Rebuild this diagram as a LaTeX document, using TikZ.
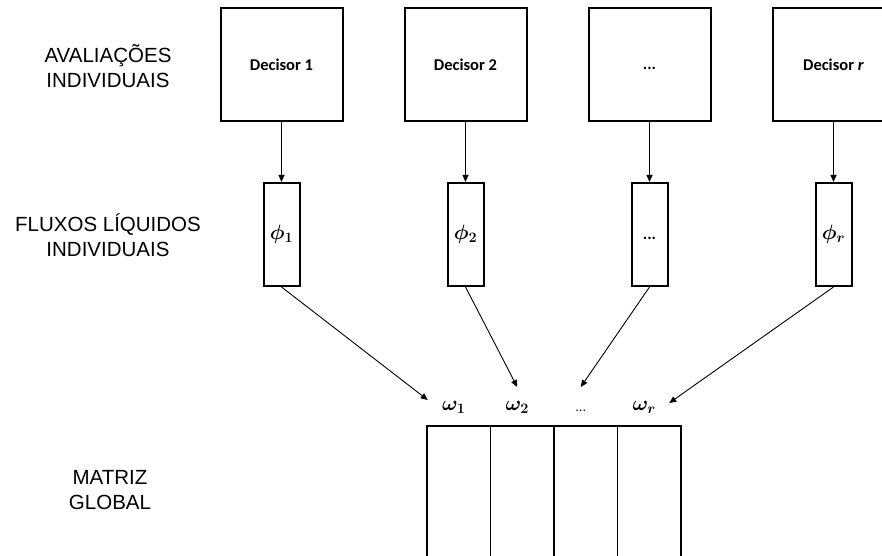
\documentclass[tikz,border=0pt]{standalone}
\usepackage{amsmath}
\usepackage{amssymb}
\usepackage{bm}
\usepackage{fontspec}
\setmainfont{Liberation Sans}
\newfontfamily\calibfont{Carlito}
\usepackage{tikz}
\usetikzlibrary{positioning, arrows.meta, calc}
\newcommand{\labfont}{\fontsize{20.5}{24.5}\selectfont}
\newcommand{\decfont}{\calibfont\bfseries\fontsize{16.5}{20}\selectfont}
\newcommand{\symfont}{\fontsize{19.5}{22}\selectfont}

\begin{document}
\begin{tikzpicture}[
  x=1pt, y=1pt, every node/.style={font=\labfont},
  decbox/.style={draw, line width=2pt, minimum width=122pt, minimum height=113pt,
    inner sep=0pt, font=\decfont, align=center},
  fluxbox/.style={draw, line width=2pt, minimum width=36pt, minimum height=103pt,
    inner sep=0pt, font=\symfont},
  colbox/.style={draw, line width=1.1pt, minimum width=63.5pt, minimum height=160pt,
    inner sep=0pt, outer sep=0pt},
  wlab/.style={font=\symfont, inner sep=1pt},
  arr/.style={-{Triangle[length=7pt, width=6pt]}, line width=0.9pt}
]
  \useasboundingbox (0,0) rectangle (882,555);
  \clip (0,0) rectangle (882,555);

  % Row labels
  \node[align=center] (aval) at (108,489) {AVALIAÇÕES\\INDIVIDUAIS};
  \node[align=center] (flux) at (108,320) {FLUXOS LÍQUIDOS\\INDIVIDUAIS};
  \node[align=center] (glob) at (110,65) {MATRIZ\\GLOBAL};

  % Decision makers
  \node[decbox] (dec1) at (281.5,490.5) {Decisor 1};
  \node[decbox, right=60pt of dec1] (dec2) {Decisor 2};
  \node[decbox, right=60pt of dec2] (dec3) {\vphantom{D}...};
  \node[decbox, right=60pt of dec3] (dec4) {Decisor \textit{r}};

  % Net flows
  \node[fluxbox, below=60pt of dec1] (phi1) {$\bm{\phi_1}$};
  \node[fluxbox, below=60pt of dec2] (phi2) {$\bm{\phi_2}$};
  \node[fluxbox, below=60pt of dec3] (phi3) {\decfont\vphantom{D}...};
  \node[fluxbox, below=60pt of dec4] (phi4) {$\bm{\phi_r}$};

  % Global matrix columns
  \node[colbox, anchor=north west] (col1) at (427,129) {};
  \node[colbox, right=0pt of col1] (col2) {};
  \node[colbox, right=0pt of col2] (col3) {};
  \node[colbox, right=0pt of col3] (col4) {};

  % Weights
  \node[wlab] (w1) at ([xshift=-5pt, yshift=19pt]col1.north) {$\bm{\omega_1}$};
  \node[wlab] (w2) at ([xshift=-5pt, yshift=19pt]col2.north) {$\bm{\omega_2}$};
  \node[wlab, font=\fontsize{13}{16}\selectfont] (w3) at ([xshift=-5pt, yshift=19pt]col3.north) {\vphantom{D}...};
  \node[wlab] (w4) at ([xshift=-5pt, yshift=19pt]col4.north) {$\bm{\omega_r}$};

  % Arrows
  \foreach \i in {1,...,4}
    \draw[arr] (dec\i) -- (phi\i);
  \draw[arr] (phi1.south) -- ([xshift=-26pt, yshift=7pt]w1.center);
  \draw[arr] (phi2.south) -- ([yshift=20pt]w2.center);
  \draw[arr] (phi3.south) -- ([yshift=20pt]w3.center);
  \draw[arr] (phi4.south) -- ([xshift=25pt, yshift=4pt]w4.center);
\end{tikzpicture}
\end{document}
